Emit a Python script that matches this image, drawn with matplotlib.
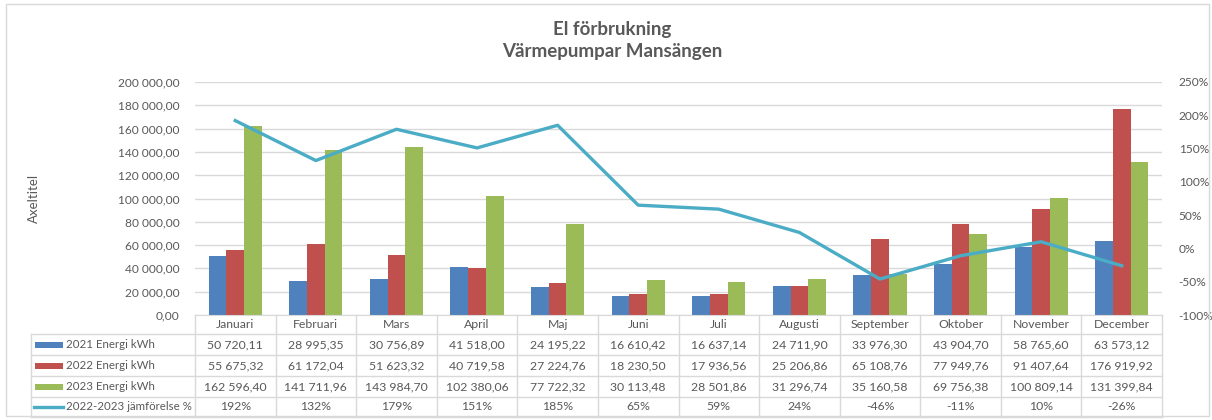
import matplotlib
matplotlib.use("Agg")
import numpy as np
from matplotlib import pyplot as plt
from matplotlib.lines import Line2D
from matplotlib.patches import Rectangle
from matplotlib.ticker import FuncFormatter

months = ["Januari", "Februari", "Mars", "April", "Maj", "Juni", "Juli",
          "Augusti", "September", "Oktober", "November", "December"]
energy_2021 = [50720.11, 28995.35, 30756.89, 41518.00, 24195.22, 16610.42,
               16637.14, 24711.90, 33976.30, 43904.70, 58765.60, 63573.12]
energy_2022 = [55675.32, 61172.04, 51623.32, 40719.58, 27224.76, 18230.50,
               17936.56, 25206.86, 65108.76, 77949.76, 91407.64, 176919.92]
energy_2023 = [162596.40, 141711.96, 143984.70, 102380.06, 77722.32, 30113.48,
               28501.86, 31296.74, 35160.58, 69756.38, 100809.14, 131399.84]
compare_pct = [192, 132, 179, 151, 185, 65, 59, 24, -46, -11, 10, -26]

series_names = ["2021 Energi kWh", "2022 Energi kWh", "2023 Energi kWh"]
line_name = "2022-2023 jämförelse %"
colors = ["#4F81BD", "#C0504D", "#9BBB59"]
line_color = "#4BACC6"
text_color = "#595959"
grid_color = "#D9D9D9"

plt.rcParams['font.family'] = ['Lato', 'DejaVu Sans']

W, H = 1212, 420
fig = plt.figure(figsize=(W / 100, H / 100), dpi=100)

def fx(px):
    return px / W

def fy(py):
    return 1 - py / H

# outer chart border
fig.add_artist(Rectangle((fx(6), fy(416)), fx(1203), 412 / H,
                         transform=fig.transFigure, fill=False,
                         edgecolor=grid_color, lw=1))

left, right, top, bottom = 195, 1162, 82, 315
ax = fig.add_axes([fx(left), fy(bottom), fx(right - left), (bottom - top) / H])
x = np.arange(len(months))
bw = 0.22
for i, (vals, c) in enumerate(zip([energy_2021, energy_2022, energy_2023], colors)):
    ax.bar(x + (i - 1) * bw, vals, bw, color=c, zorder=2)

ax.set_xlim(-0.5, len(months) - 0.5)
ax.set_ylim(0, 200000)
ax.set_yticks(np.arange(0, 200001, 20000))
ax.yaxis.set_major_formatter(FuncFormatter(
    lambda v, p: f"{v:,.2f}".replace(",", " ").replace(".", ",")))
ax.set_xticks([])
ax.grid(axis="y", color=grid_color, lw=1, zorder=0)
ax.set_axisbelow(True)
for s in ["top", "right", "left"]:
    ax.spines[s].set_visible(False)
ax.spines["bottom"].set_color(grid_color)
ax.tick_params(axis="y", length=0, labelsize=8.6, labelcolor=text_color, pad=11)
ax.set_ylabel("Axeltitel", fontsize=9.5, color=text_color, labelpad=56)

ax2 = ax.twinx()
ax2.plot(x, compare_pct, color=line_color, lw=2.4, zorder=3)
ax2.set_ylim(-100, 250)
ax2.set_yticks(np.arange(-100, 251, 50))
ax2.yaxis.set_major_formatter(FuncFormatter(lambda v, p: f"{v:.0f}%"))
for s in ax2.spines.values():
    s.set_visible(False)
ax2.tick_params(axis="y", length=0, labelsize=8.6, labelcolor=text_color, pad=12)

# title
fig.text(fx(612), fy(30), "El förbrukning", ha="center", va="center",
         fontsize=13.5, fontweight="bold", color=text_color)
fig.text(fx(612), fy(52), "Värmepumpar Mansängen", ha="center", va="center",
         fontsize=13.5, fontweight="bold", color=text_color)

# data table under the chart
col_w = (right - left) / len(months)
row_edges = [315, 334, 355, 376, 397, 417]
label_left = 31

def hline(x0, x1, y):
    fig.add_artist(Line2D([fx(x0), fx(x1)], [fy(y), fy(y)], color=grid_color,
                          lw=1, transform=fig.transFigure))

def vline(xp, y0, y1):
    fig.add_artist(Line2D([fx(xp), fx(xp)], [fy(y0), fy(y1)], color=grid_color,
                          lw=1, transform=fig.transFigure))

for y in row_edges[1:]:
    hline(label_left, right, y)
vline(label_left, row_edges[1], row_edges[-1])
for j in range(len(months) + 1):
    vline(left + j * col_w, row_edges[0], row_edges[-1])

def fmt_num(v):
    return f"{v:,.2f}".replace(",", " ").replace(".", ",")

rows = [[fmt_num(v) for v in energy_2021],
        [fmt_num(v) for v in energy_2022],
        [fmt_num(v) for v in energy_2023],
        [f"{v}%" for v in compare_pct]]

for j, m in enumerate(months):
    cx = left + (j + 0.5) * col_w
    fig.text(fx(cx), fy((row_edges[0] + row_edges[1]) / 2), m, ha="center",
             va="center", fontsize=8.8, color=text_color)
    for r, row in enumerate(rows):
        cy = (row_edges[r + 1] + row_edges[r + 2]) / 2
        fig.text(fx(cx), fy(cy), row[j], ha="center", va="center",
                 fontsize=8.8, color=text_color)

names = series_names + [line_name]
for r, name in enumerate(names):
    cy = (row_edges[r + 1] + row_edges[r + 2]) / 2
    if r < 3:
        fig.add_artist(Rectangle((fx(35), fy(cy + 3)), fx(28), 6 / H,
                                 transform=fig.transFigure, color=colors[r], lw=0))
    else:
        fig.add_artist(Line2D([fx(34), fx(63)], [fy(cy), fy(cy)], color=line_color,
                              lw=2.4, transform=fig.transFigure))
    fig.text(fx(66), fy(cy), name, ha="left", va="center", fontsize=8.3,
             color=text_color)

fig.savefig("out.png", dpi=100)
